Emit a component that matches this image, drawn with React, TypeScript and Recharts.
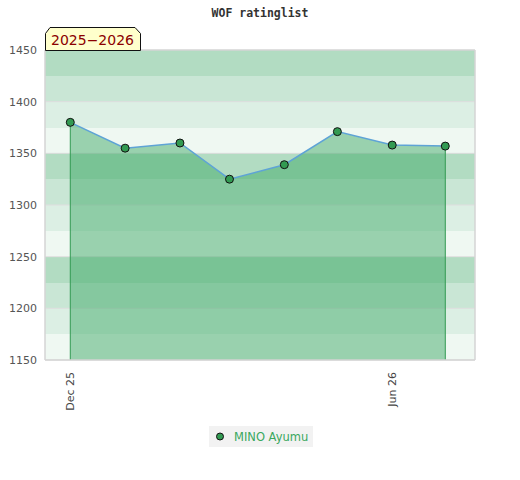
import { ComposedChart, Area, XAxis, YAxis, CartesianGrid, ReferenceLine } from "recharts";

// monthly WOF rating of the player
const months = ["2025-12-01", "2026-01-01", "2026-02-01", "2026-03-01", "2026-04-01", "2026-05-01", "2026-06-01", "2026-07-01"];
const ratings = [1380, 1355, 1360, 1325, 1339, 1371, 1358, 1357];

const xTickDates = ["2025-12-01", "2026-06-01"];
const xTickLabels = ["Dec 25", "Jun 26"];
const yTicks = [1150, 1200, 1250, 1300, 1350, 1400, 1450];
const yMinorTicks = [
  1150, 1160, 1170, 1180, 1190, 1200, 1210, 1220, 1230, 1240, 1250, 1260, 1270, 1280, 1290, 1300,
  1310, 1320, 1330, 1340, 1350, 1360, 1370, 1380, 1390, 1400, 1410, 1420, 1430, 1440, 1450,
];
// band edges every 25 points, colours from the top band down
const bandEdges = [1150, 1175, 1200, 1225, 1250, 1275, 1300, 1325, 1350, 1375, 1400, 1425, 1450];
const bandColors = ["#b2dcc2", "#c9e6d5", "#dcefe4", "#eff8f2"];

const playerName = "MINO Ayumu";
const seasonLabel = "2025−2026";
const title = "WOF ratinglist";

const DAY = 86400000;
const ts = (d: string) => new Date(d + "T00:00:00Z").getTime();
const data = months.map((m, i) => ({ t: ts(m), rating: ratings[i] }));
const xDomain = [data[0].t - 14.3 * DAY, data[data.length - 1].t + 16.8 * DAY];

const FONT = "'DejaVu Sans', sans-serif";
const GREEN = "#329a52";

function XTick({ x, y, payload }: any) {
  const idx = xTickDates.findIndex((d) => ts(d) === payload.value);
  return (
    <text
      x={x}
      y={y + 12}
      dy="0.35em"
      transform={`rotate(-90, ${x}, ${y + 12})`}
      textAnchor="end"
      fontSize={11}
      fill="#444"
      fontFamily={FONT}
    >
      {xTickLabels[idx]}
    </text>
  );
}

// labels only on the 50s, the minor ticks come from tickLine
function RightTick({ x, y, payload }: any) {
  if (payload.value % 50 !== 0) return <g />;
  return (
    <text x={x + 4} y={y} dy="0.36em" fontSize={11} fill="#222" fontFamily={FONT}>
      {payload.value}
    </text>
  );
}

export default function App() {
  const first = data[0];
  const last = data[data.length - 1];
  return (
    <div style={{ position: "absolute", left: 0, top: 0, width: 520, height: 480, fontFamily: FONT, background: "#fff" }}>
      <div
        style={{
          position: "absolute",
          top: 6,
          left: 0,
          width: 520,
          textAlign: "center",
          fontFamily: "'DejaVu Sans Mono', monospace",
          fontWeight: "bold",
          fontSize: 11.5,
          color: "#333",
        }}
      >
        {title}
      </div>

      <ComposedChart width={520} height={480} data={data} margin={{ top: 50, right: 0, bottom: 0, left: 0 }}>
        {/* alternating bands, drawn as grid stripes so they stay behind everything */}
        <CartesianGrid
          yAxisId="left"
          vertical={false}
          horizontalValues={bandEdges}
          horizontalFill={bandColors}
          fillOpacity={1}
          stroke="transparent"
        />
        {yTicks.map((v) => (
          <ReferenceLine
            key={v}
            yAxisId="left"
            y={v}
            stroke={v === 1450 ? "#d4d4d4" : "#dedede"}
            strokeWidth={v === 1450 ? 1.5 : 1}
            zIndex={20}
          />
        ))}

        <Area
          yAxisId="left"
          type="linear"
          dataKey="rating"
          stroke="#5ea3d6"
          strokeWidth={1.5}
          fill="#3aa865"
          fillOpacity={0.48}
          dot={{ r: 4, fill: GREEN, stroke: "#111", strokeWidth: 1, fillOpacity: 1 }}
          activeDot={false}
          isAnimationActive={false}
        />

        <ReferenceLine
          yAxisId="left"
          segment={[{ x: first.t, y: 1150 }, { x: first.t, y: first.rating }]}
          stroke={GREEN}
          strokeWidth={1}
          zIndex={150}
        />
        <ReferenceLine
          yAxisId="left"
          segment={[{ x: last.t, y: 1150 }, { x: last.t, y: last.rating }]}
          stroke={GREEN}
          strokeWidth={1}
          zIndex={150}
        />

        <XAxis
          dataKey="t"
          type="number"
          domain={xDomain}
          ticks={xTickDates.map(ts)}
          interval={0}
          height={120}
          tickSize={0}
          tickMargin={0}
          tickLine={false}
          axisLine={{ stroke: "#d4d4d4", strokeWidth: 1.5 }}
          tick={<XTick />}
        />
        <YAxis
          yAxisId="left"
          type="number"
          domain={[1150, 1450]}
          ticks={yTicks}
          interval={0}
          width={45}
          tickLine={false}
          axisLine={{ stroke: "#d4d4d4", strokeWidth: 1.5 }}
          tick={{ fontSize: 11, fill: "#555", fontFamily: FONT }}
        />
        <YAxis
          yAxisId="right"
          orientation="right"
          type="number"
          domain={[1150, 1450]}
          ticks={yMinorTicks}
          interval={0}
          width={45}
          tickSize={4}
          tickMargin={0}
          tickLine={{ stroke: "#111", strokeWidth: 1 }}
          axisLine={{ stroke: "#d4d4d4", strokeWidth: 1.5 }}
          tick={<RightTick />}
        />
      </ComposedChart>

      <svg style={{ position: "absolute", left: 0, top: 0 }} width={160} height={60}>
        <polygon
          points="45.5,50.5 45.5,33.5 50,27.5 135,27.5 140.5,33.5 140.5,50.5"
          fill="#ffffcc"
          stroke="#111"
          strokeWidth={1}
        />
        <text x={51} y={45} fontSize={14} fill="#8b0000" fontFamily={FONT}>
          {seasonLabel}
        </text>
      </svg>

      <div
        style={{
          position: "absolute",
          left: 209,
          top: 426,
          width: 104,
          height: 21,
          background: "#f2f2f2",
          display: "flex",
          alignItems: "center",
          fontSize: 11.5,
          color: "#3aa85e",
        }}
      >
        <svg width={25} height={21} style={{ flex: "none" }}>
          <circle cx={11} cy={10.5} r={3.5} fill={GREEN} stroke="#111" strokeWidth={1} />
        </svg>
        <span>{playerName}</span>
      </div>
    </div>
  );
}
